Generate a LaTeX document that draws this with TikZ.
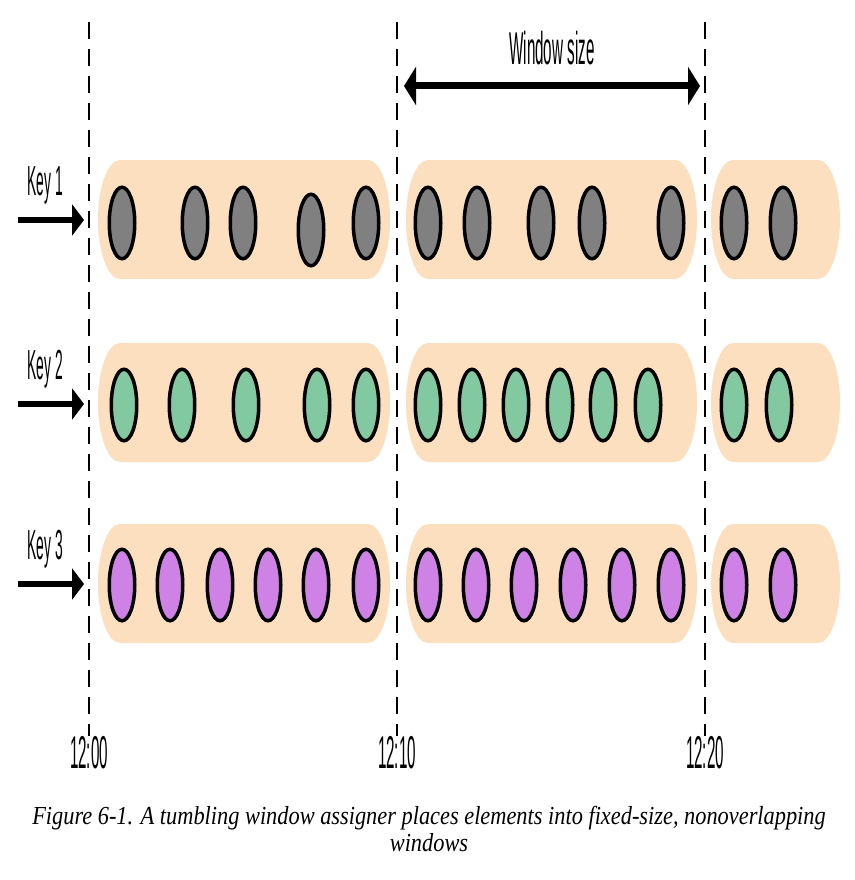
\documentclass[tikz,border=0pt]{standalone}
\usepackage{fontspec}
\setmainfont{Liberation Serif}
\newfontfamily\condfont[FakeStretch=0.33]{Liberation Sans}
\newfontfamily\capfont[FakeStretch=0.86]{Liberation Serif}
\usetikzlibrary{shapes.geometric,arrows.meta}
\definecolor{pill}{RGB}{252,223,191}
\definecolor{dotgray}{RGB}{128,128,128}
\definecolor{dotgreen}{RGB}{130,200,160}
\definecolor{dotpurple}{RGB}{207,130,230}
\newcommand{\pillpath}[4]{% x1, x2, top, bottom
  \fill[pill] (#1+22,#3) -- (#2-22,#3) arc[start angle=90, end angle=-90, x radius=22pt, y radius=59.5pt]
    -- (#1+22,#4) arc[start angle=270, end angle=90, x radius=22pt, y radius=59.5pt] -- cycle;}
\begin{document}
\begin{tikzpicture}[x=1pt,y=-1pt,
  dot/.style={ellipse, draw=black, line width=3.5pt, minimum width=25.5pt, minimum height=71.5pt, inner sep=0pt},
  dotA/.style={dot, fill=dotgray},
  dotB/.style={dot, fill=dotgreen},
  dotC/.style={dot, fill=dotpurple},
  dashline/.style={line width=2.5pt, dash pattern=on 17pt off 10pt},
  keyarrow/.style={line width=6.5pt, -{Triangle[length=12pt,width=31pt]}},
  sizearrow/.style={line width=7pt, {Triangle[length=12pt,width=38pt]}-{Triangle[length=12pt,width=38pt]}},
  condlabel/.style={font=\fontsize{46}{46}\selectfont\condfont, inner sep=0pt},
  keylabel/.style={font=\fontsize{42}{42}\selectfont\condfont, inner sep=0pt},
]
\useasboundingbox (0,0) rectangle (854,880);
\fill[white] (0,0) rectangle (854,880);

% pills (window panes)
\foreach \t/\b in {160/279,343/462,524/643}{
  \pillpath{98}{390}{\t}{\b}
  \pillpath{406}{697}{\t}{\b}
  \pillpath{711}{840}{\t}{\b}
}

% dashed time lines
\foreach \n/\x in {0/89,1/397,2/705}{
  \coordinate (t\n top) at (\x,22);
  \coordinate (t\n bot) at (\x,736);
  \draw[dashline] (t\n top) -- (t\n bot);
}

% row 1
\foreach \x/\y [count=\i] in {122/223,195/223,243/223,311/230,366/223,428/223,477/223,541/223,592/223,671/223,734/223,783/223}{
  \node[dotA] (r1e\i) at (\x,\y) {};
}
% row 2
\foreach \x [count=\i] in {124,182,246,317,366,428,472,516,560,603,648,734,779}{
  \node[dotB] (r2e\i) at (\x,405) {};
}
% row 3
\foreach \x [count=\i] in {122,170,220,268,316,366,428,476,524,573,622,671,734,783}{
  \node[dotC] (r3e\i) at (\x,585) {};
}

% keys
\foreach \k/\y in {1/220,2/404,3/584}{
  \node[keylabel] (key\k) at (45,\y-35) {Key \k};
  \coordinate (ks\k) at (18,\y);
  \coordinate (ke\k) at (84,\y);
  \draw[keyarrow] (ks\k) -- (ke\k);
}

% window size
\node[condlabel] (wsize) at (552,48) {Window size};
\coordinate (wsl) at (404,86);
\coordinate (wsr) at (700,86);
\draw[sizearrow] (wsl) -- (wsr);

% time labels
\node[condlabel] (lab0) at (89,753) {12:00};
\node[condlabel] (lab1) at (397,753) {12:10};
\node[condlabel] (lab2) at (705,753) {12:20};

% caption
\node[font=\fontsize{26}{27}\selectfont\capfont\itshape, align=center, inner sep=0pt] (cap) at (429,829)
  {Figure 6-1. A tumbling window assigner places elements into fixed-size, nonoverlapping\\ windows};
\end{tikzpicture}
\end{document}
